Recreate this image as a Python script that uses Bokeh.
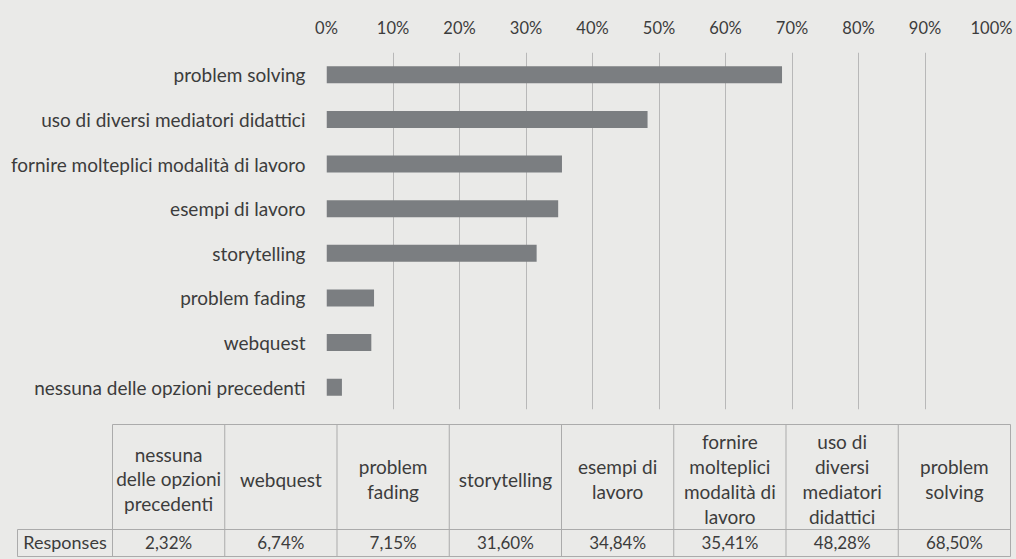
from bokeh.plotting import figure
from bokeh.models import Range1d, FactorRange, FixedTicker, ColumnDataSource
from bokeh.layouts import column
from bokeh.embed import file_html
from bokeh.resources import INLINE
from bokeh.core.properties import value

# ---------------- data ----------------
categories = [
    "problem solving",
    "uso di diversi mediatori didattici",
    "fornire molteplici modalità di lavoro",
    "esempi di lavoro",
    "storytelling",
    "problem fading",
    "webquest",
    "nessuna delle opzioni precedenti",
]
values = [68.50, 48.28, 35.41, 34.84, 31.60, 7.15, 6.74, 2.32]

tick_values = [0, 10, 20, 30, 40, 50, 60, 70, 80, 90, 100]
tick_labels = ["0%", "10%", "20%", "30%", "40%", "50%", "60%", "70%", "80%", "90%", "100%"]

table_row_label = "Responses"
table_headers = [
    "nessuna\ndelle opzioni\nprecedenti",
    "webquest",
    "problem\nfading",
    "storytelling",
    "esempi di\nlavoro",
    "fornire\nmolteplici\nmodalità di\nlavoro",
    "uso di\ndiversi\nmediatori\ndidattici",
    "problem\nsolving",
]

# ---------------- style ----------------
BG = "#eaeae8"
TXT = "#3c3c3c"
BAR = "#7b7e81"
GRID = "#b8b8b8"
BORDER = "#ababab"
FONT = "Lato"

# ---------------- bar chart ----------------
p = figure(
    width=1016, height=418,
    x_range=Range1d(0, 100),
    y_range=FactorRange(factors=categories[::-1]),
    x_axis_location="above",
    output_backend="svg", toolbar_location=None,
    min_border_left=326, min_border_right=25,
    min_border_top=52, min_border_bottom=9,
)
p.frame_align = False
p.background_fill_color = BG
p.border_fill_color = BG
p.outline_line_color = None

src = ColumnDataSource(dict(cat=categories, val=values))
p.hbar(y="cat", right="val", left=0, height=0.38, source=src,
       fill_color=BAR, line_color=None)

xt = FixedTicker(ticks=tick_values)
p.xaxis.ticker = xt
p.xaxis.major_label_overrides = {t: l for t, l in zip(tick_values, tick_labels)}
p.xaxis.axis_line_color = None
p.xaxis.major_tick_line_color = None
p.xaxis.minor_tick_line_color = None
p.xaxis.major_label_standoff = 9
p.xaxis.major_label_text_font = FONT
p.xaxis.major_label_text_font_size = "16.5px"
p.xaxis.major_label_text_color = TXT

p.xgrid.ticker = xt
p.xgrid.grid_line_color = GRID
p.xgrid.grid_line_width = 1
p.ygrid.grid_line_color = None

p.yaxis.axis_line_color = None
p.yaxis.major_tick_line_color = None
p.yaxis.minor_tick_line_color = None
p.yaxis.major_label_standoff = 15
p.yaxis.major_label_text_font = FONT
p.yaxis.major_label_text_font_size = "19px"
p.yaxis.major_label_text_color = TXT

# ---------------- data table ----------------
H = 141
q = figure(
    width=1016, height=H,
    x_range=Range1d(0, 1016), y_range=Range1d(H, 0),
    x_axis_type=None, y_axis_type=None,
    output_backend="svg", toolbar_location=None,
    min_border=0,
)
q.frame_align = False
q.background_fill_color = BG
q.border_fill_color = BG
q.outline_line_color = None
q.xgrid.grid_line_color = None
q.ygrid.grid_line_color = None

n = len(table_headers)
left0, right0 = 112, 1010
lab_left = 17
top, mid, bot = 6, 111, 138
colw = (right0 - left0) / n
edges = [left0 + i * colw for i in range(n + 1)]
centers = [left0 + (i + 0.5) * colw for i in range(n)]

# border lines
x0s, y0s, x1s, y1s = [], [], [], []
for e in edges:
    x0s.append(e); y0s.append(top); x1s.append(e); y1s.append(bot)
x0s.append(lab_left); y0s.append(mid); x1s.append(lab_left); y1s.append(bot)
for (xa, yy) in [(left0, top), (lab_left, mid), (lab_left, bot)]:
    x0s.append(xa); y0s.append(yy); x1s.append(right0); y1s.append(yy)
q.segment(x0=x0s, y0=y0s, x1=x1s, y1=y1s, line_color=BORDER, line_width=1)

table_values = values[::-1]
value_texts = [f"{v:.2f}".replace(".", ",") + "%" for v in table_values]

q.text(x=centers, y=[(top + mid) / 2 + 2] * n, text=table_headers,
       text_align="center", text_baseline="middle",
       text_font=value(FONT), text_font_size="19px", text_color=TXT,
       text_line_height=1.08)
q.text(x=centers, y=[(mid + bot) / 2 - 1] * n, text=value_texts,
       text_align="center", text_baseline="middle",
       text_font=value(FONT), text_font_size="17px", text_color=TXT)
q.text(x=[(lab_left + left0) / 2], y=[(mid + bot) / 2 - 1], text=[table_row_label],
       text_align="center", text_baseline="middle",
       text_font=value(FONT), text_font_size="18px", text_color=TXT)

layout = column(p, q, spacing=0)
layout.styles = {"background-color": BG}
open("out.html", "w").write(file_html(layout, INLINE))
